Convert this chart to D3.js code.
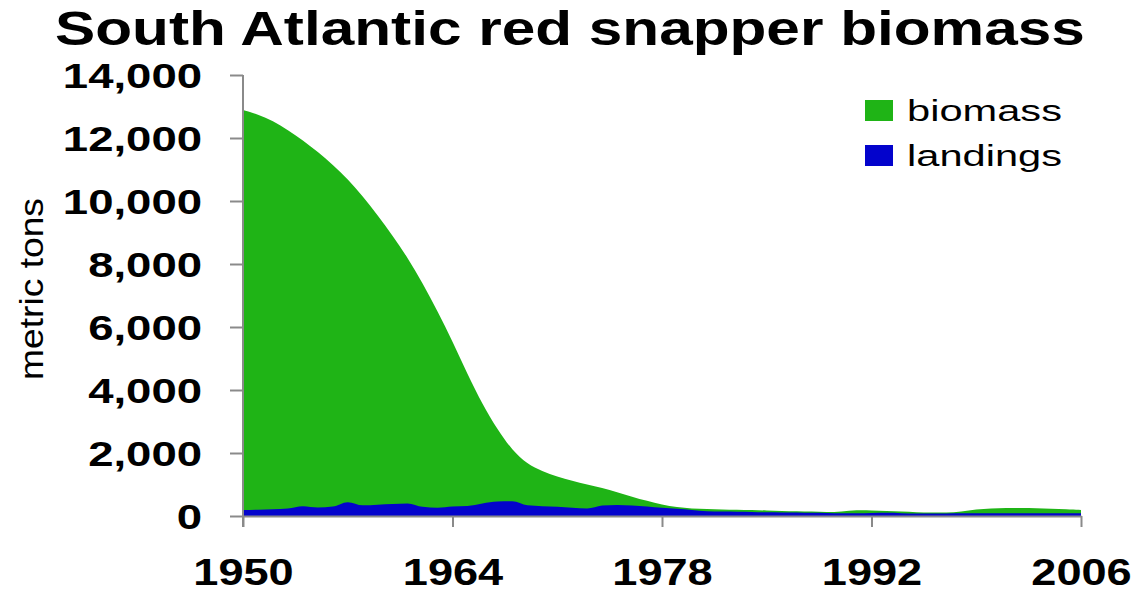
<!DOCTYPE html>
<html>
<head>
<meta charset="utf-8">
<script src="https://cdn.jsdelivr.net/npm/d3@7"></script>
<style>
  body { margin: 0; background: #fff; }
  text { font-family: "Liberation Sans", Arial, sans-serif; fill: #000; }
</style>
</head>
<body>
<svg id="chart" width="1138" height="592"></svg>
<script>
// values, metric tons per year
let years = d3.range(1950, 2007);
let biomass = [
    12890, 12750, 12550, 12250, 11930, 11560, 11150, 10700, 10150, 9550,
    8900, 8200, 7400, 6500, 5550, 4500, 3550, 2750, 2080, 1650,
    1420, 1250, 1120, 1000, 890, 760, 610, 480, 360, 280,
    235, 220, 210, 200, 190, 175, 160, 150, 140, 125,
    140, 190, 175, 160, 140, 120, 110, 110, 140, 210,
    240, 255, 260, 250, 230, 220, 190
];
let landings = [
    190, 200, 215, 240, 310, 270, 300, 440, 340, 360,
    380, 400, 290, 260, 300, 320, 400, 460, 470, 340,
    310, 290, 260, 235, 330, 350, 330, 300, 260, 230,
    190, 150, 140, 135, 130, 120, 115, 110, 100, 95,
    85, 85, 95, 100, 90, 80, 80, 80, 85, 85,
    85, 85, 85, 85, 85, 85, 85
];
let yTicks = [0, 2000, 4000, 6000, 8000, 10000, 12000, 14000];
let xTicks = [1950, 1964, 1978, 1992, 2006];
let legendNames = ["biomass", "landings"];
let colors = ["#1fb416", "#0303cc"];

let svg = d3.select("#chart");

let xScale = d3.scaleLinear().domain([1950, 2006]).range([243, 1081]),
    yScale = d3.scaleLinear().domain([0, 14000]).range([516, 75]);

// stretch a text so it fills a given length
function fit(t, w) {
    let len = t.node().getComputedTextLength();
    return w / len;
}

let rows = years.map((yr, i) => ({ year: yr, b: biomass[i], l: landings[i] }));

let bArea = d3.area()
    .x(d => xScale(d.year))
    .y0(yScale(0))
    .y1(d => yScale(d.b))
    .curve(d3.curveBasis);

let lArea = d3.area()
    .x(d => xScale(d.year))
    .y0(yScale(0))
    .y1(d => yScale(d.l))
    .curve(d3.curveMonotoneX);

svg.append("path").datum(rows).attr("d", bArea).attr("fill", colors[0]);
svg.append("path").datum(rows).attr("d", lArea).attr("fill", colors[1]);

// y axis
let yAxis = svg.append("g")
    .attr("transform", "translate(243,0)")
    .call(d3.axisLeft(yScale).tickValues(yTicks).tickFormat(d3.format(",")).tickSize(13).tickSizeOuter(0));

yAxis.select(".domain").attr("stroke", "#8a8a8a").attr("stroke-width", 2)
    .attr("d", "M0,75V527");
yAxis.selectAll(".tick line").attr("stroke", "#8a8a8a").attr("stroke-width", 2);
yAxis.selectAll(".tick text")
    .attr("x", 0)
    .attr("dy", "0.36em")
    .style("font-size", "35px")
    .style("font-weight", "bold")
    .attr("fill", "#000")
    .attr("transform", "translate(-41,0) scale(1.3,1)");

// x axis
let xAxis = svg.append("g")
    .attr("transform", "translate(0,516)")
    .call(d3.axisBottom(xScale).tickValues(xTicks).tickFormat(d3.format("d")).tickSize(11).tickSizeOuter(0));

xAxis.select(".domain").attr("stroke", "#8a8a8a").attr("stroke-width", 2);
xAxis.selectAll(".tick line").attr("stroke", "#8a8a8a").attr("stroke-width", 2);
xAxis.selectAll(".tick text")
    .attr("y", 0)
    .attr("dy", 0)
    .style("font-size", "37px")
    .style("font-weight", "bold")
    .attr("fill", "#000")
    .attr("transform", "translate(0,69) scale(1.22,1)");

// title
let title = svg.append("text")
    .style("font-size", "49px")
    .style("font-weight", "bold")
    .text("South Atlantic red snapper biomass");
title.attr("transform", "translate(55,45) scale(" + fit(title, 1030) + ",1)");

// y axis title
let ylab = svg.append("text")
    .attr("text-anchor", "middle")
    .style("font-size", "34px")
    .text("metric tons");
ylab.attr("transform", "translate(43,289) rotate(-90) scale(" + fit(ylab, 182) + ",1)");

// legend
let leg = svg.append("g");
legendNames.forEach((name, i) => {
    let y0 = 100 + i * 45;
    leg.append("rect")
        .attr("x", 865).attr("y", y0)
        .attr("width", 28).attr("height", 21)
        .attr("fill", colors[i]);
    let t = leg.append("text")
        .style("font-size", "29px")
        .text(name);
    t.attr("transform", "translate(907," + (y0 + 21) + ") scale(" + fit(t, 155) + ",1)");
});
</script>
</body>
</html>
